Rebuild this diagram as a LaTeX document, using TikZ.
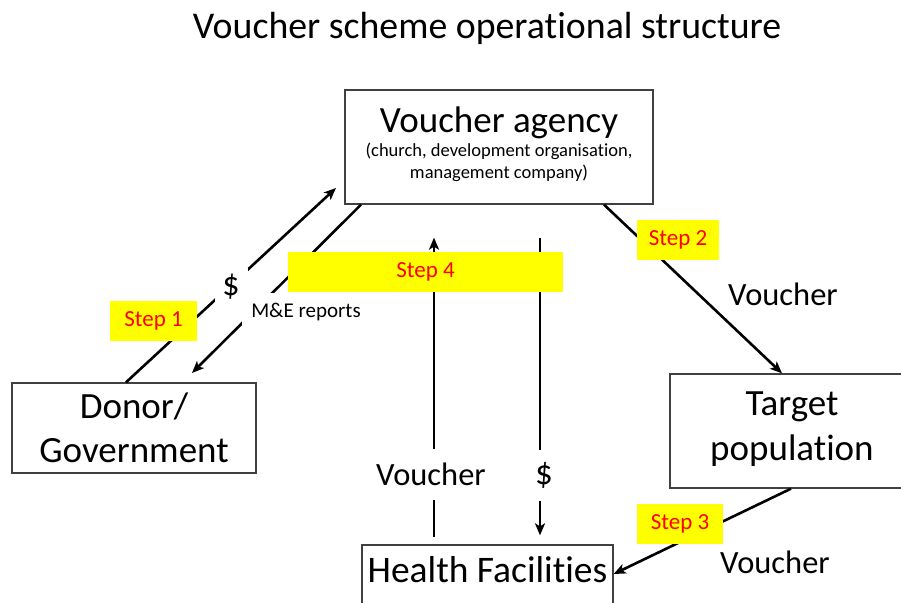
\documentclass[tikz,border=0pt]{standalone}
\usepackage{fontspec}
\setmainfont{Carlito}[Ligatures={TeX,NoCommon}]
\usetikzlibrary{arrows.meta,calc}
\definecolor{stepyellow}{RGB}{255,255,0}
\definecolor{stepred}{RGB}{255,0,0}
\tikzset{
  box/.style={draw=black!75, line width=1.3pt, inner sep=0pt, align=center},
  conn/.style={line width=2.6pt, black},
  arr/.style={conn, -{Stealth[length=12pt,width=10pt,inset=3pt]}},
  stepbox/.style={fill=stepyellow, text=stepred, inner sep=0pt,
    font=\fontsize{23}{27}\selectfont},
  lbl/.style={fill=white, inner sep=0pt, font=\fontsize{32.5}{36}\selectfont},
}
\begin{document}
\begin{tikzpicture}[x=1pt,y=-1pt]
\useasboundingbox (0,0) rectangle (901,602);
\fill[white] (0,0) rectangle (901,602);

% title
\node[anchor=base, font=\fontsize{37.8}{42}\selectfont] (title) at (487,38)
  {Voucher scheme operational structure};

% boxes
\node[box, minimum width=308, minimum height=114,
      font=\fontsize{18.5}{22.5}\selectfont] (agency) at (499,147)
  {{\fontsize{37}{37}\selectfont Voucher agency}\\[1pt]
   (church, development organisation,\\
   management company)\\[-14pt]\mbox{}};
\node[box, minimum width=244, minimum height=90,
      font=\fontsize{37}{44}\selectfont] (donor) at (134,428)
  {Donor/\\Government};
\node[box, minimum width=244, minimum height=114,
      font=\fontsize{37}{45}\selectfont] (target) at (792,431)
  {Target\\population\\[-35pt]\mbox{}};
\node[box, anchor=base, minimum width=251, text height=37, text depth=53,
      font=\fontsize{37.5}{40}\selectfont] (hf) at (487.5,582)
  {Health Facilities};

% connectors
\coordinate (dollarEnd) at (336,188);
\coordinate (meEnd) at (192,373);
\draw[arr] (donor.north -| 126,0) -- (dollarEnd);
\draw[arr] (agency.south -| 361,0) -- (meEnd);
\draw[arr, shorten <=7pt, shorten >=33pt] (hf.north -| 434,0) -- (agency.south -| 434,0);
\draw[arr, shorten <=33pt, shorten >=9pt] (agency.south -| 540,0) -- (hf.north -| 540,0);
\draw[arr] (agency.south -| 604,0) -- (target.north -| 782,0);
\draw[arr] (target.south -| 791,0) -- (hf.east |- 0,574);

% labels on connectors
\node[lbl, font=\fontsize{34}{38}\selectfont, minimum width=33, minimum height=38]
  (dollarLbl) at (231,287) {\$};
\node[lbl, font=\fontsize{21}{25}\selectfont, minimum height=34, inner xsep=9pt,
      text height=17pt, text depth=3pt]
  (meLbl) at (306,310) {M\&E reports};
\node[lbl, minimum height=51] (vUpLbl) at (431,474) {Voucher};
\node[lbl, font=\fontsize{35}{38}\selectfont, minimum height=51, minimum width=20]
  (dDownLbl) at (544,475) {\$};
\node[lbl, fill=none] (v2Lbl) at (783,294) {Voucher};
\node[lbl, fill=none] (v3Lbl) at (775,562) {Voucher};

% step boxes
\node[stepbox, minimum width=87, minimum height=40] (s1) at (153.5,321) {Step 1};
\node[stepbox, minimum width=82, minimum height=40] (s2) at (678,240) {Step 2};
\node[stepbox, minimum width=86, minimum height=40] (s3) at (680,524) {Step 3};
\node[stepbox, minimum width=275, minimum height=40] (s4) at (425.5,272) {Step 4};
\end{tikzpicture}
\end{document}
